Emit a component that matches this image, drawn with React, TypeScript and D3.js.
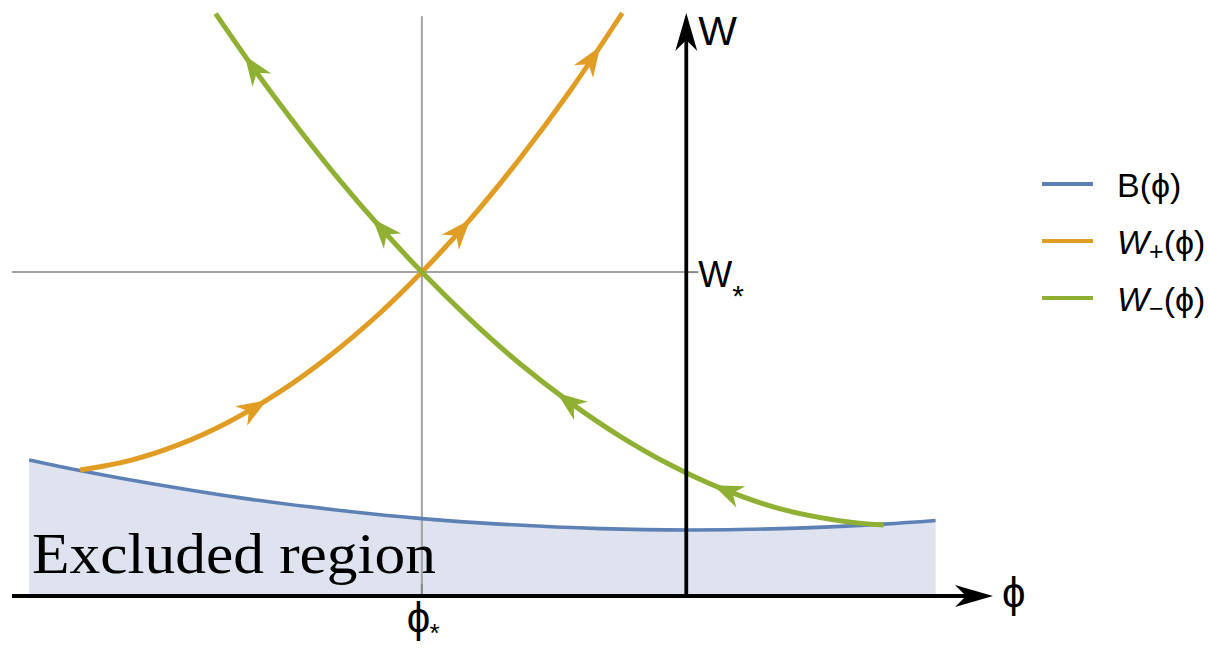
import React, { useRef, useEffect } from 'react';
import * as d3 from 'd3';

// B(phi) boundary of the excluded region
const bPhi = [-2.485, -2.284, -2.03, -1.652, -1.273, -1.0, -0.705, -0.326, 0.015, 0.356, 0.746, 0.943];
const bW = [0.42, 0.386, 0.348, 0.299, 0.261, 0.239, 0.222, 0.208, 0.204, 0.208, 0.222, 0.233];

// W+(phi)
const wPlusPhi = [-2.292, -2.106, -1.917, -1.727, -1.538, -1.348, -1.159, -1.0, -0.818, -0.629, -0.439, -0.242];
const wPlusW = [0.389, 0.418, 0.468, 0.539, 0.63, 0.742, 0.873, 1.0, 1.162, 1.351, 1.56, 1.8];

// W-(phi)
const wMinusPhi = [-1.78, -1.614, -1.462, -1.311, -1.159, -1.0, -0.818, -0.629, -0.439, -0.25, -0.061, 0.129, 0.356, 0.583, 0.746];
const wMinusW = [1.798, 1.604, 1.439, 1.284, 1.14, 1.0, 0.854, 0.717, 0.597, 0.493, 0.405, 0.333, 0.269, 0.232, 0.219];

// arrow tips (phi positions)
const wPlusArrows = [-1.587, -0.818, -0.326];
const wMinusArrows = [-1.67, -1.186, -0.489, 0.102];

const phiStar = -1;
const wStar = 1;
const phiExtent = [-2.55, 1.16];
const wExtent = [0, 1.8];

const colors = { b: '#5e81b5', plus: '#e19c24', minus: '#8fb032', fill: '#dee3ef' };
const sans = 'Liberation Sans, Arial, Helvetica, sans-serif';
const PHI = '\u03D5';

const App = () => {
  const ref = useRef<SVGSVGElement>(null);

  useEffect(() => {
    const svg = d3.select(ref.current);
    svg.selectAll('*').remove();

    const x = d3.scaleLinear().domain(phiExtent).range([12, 993]);
    const y = d3.scaleLinear().domain(wExtent).range([596, 13]);

    const bData = bPhi.map((p, i) => [p, bW[i]]);
    const plusData = wPlusPhi.map((p, i) => [p, wPlusW[i]]);
    const minusData = wMinusPhi.map((p, i) => [p, wMinusW[i]]);

    const line = d3.line<number[]>()
      .x(d => x(d[0]))
      .y(d => y(d[1]))
      .curve(d3.curveCatmullRom.alpha(0.5));

    // shaded excluded region
    const area = d3.area<number[]>()
      .x(d => x(d[0]))
      .y0(y(0))
      .y1(d => y(d[1]))
      .curve(d3.curveCatmullRom.alpha(0.5));
    svg.append('path').attr('d', area(bData)).attr('fill', colors.fill);

    // guide lines through the fixed point
    svg.append('line')
      .attr('x1', x(phiStar)).attr('x2', x(phiStar))
      .attr('y1', y(1.79)).attr('y2', y(0))
      .attr('stroke', '#a3a3a3').attr('stroke-width', 2);
    svg.append('line')
      .attr('x1', x(phiExtent[0])).attr('x2', x(0))
      .attr('y1', y(wStar)).attr('y2', y(wStar))
      .attr('stroke', '#a3a3a3').attr('stroke-width', 2);
    // ticks
    svg.append('line')
      .attr('x1', x(phiStar)).attr('x2', x(phiStar))
      .attr('y1', y(0) - 12).attr('y2', y(0))
      .attr('stroke', '#888').attr('stroke-width', 2);
    svg.append('line')
      .attr('x1', x(0)).attr('x2', x(0) + 12)
      .attr('y1', y(wStar)).attr('y2', y(wStar))
      .attr('stroke', '#888').attr('stroke-width', 2);

    svg.append('text')
      .attr('x', 32).attr('y', y(0) - 23)
      .attr('font-family', 'Liberation Serif, Times New Roman, serif')
      .attr('font-size', 58)
      .attr('textLength', 404)
      .attr('lengthAdjust', 'spacingAndGlyphs')
      .attr('fill', '#000')
      .text('Excluded region');

    svg.append('path').attr('d', line(bData))
      .attr('fill', 'none').attr('stroke', colors.b).attr('stroke-width', 3.6);

    const arrowHead = (tx: number, ty: number, ux: number, uy: number, L: number, W: number, N: number) => {
      const nx = -uy, ny = ux;
      return [
        [tx, ty],
        [tx - L * ux + W * nx, ty - L * uy + W * ny],
        [tx - N * ux, ty - N * uy],
        [tx - L * ux - W * nx, ty - L * uy - W * ny],
      ].map(p => p.join(',')).join(' ');
    };

    const drawCurve = (data: number[][], color: string, arrows: number[], dir: number) => {
      const path = svg.append('path').attr('d', line(data))
        .attr('fill', 'none').attr('stroke', color).attr('stroke-width', 5);
      const node = path.node() as SVGPathElement;
      const total = node.getTotalLength();
      arrows.forEach(a => {
        const px = x(a);
        let lo = 0, hi = total;
        for (let i = 0; i < 40; i++) {
          const mid = (lo + hi) / 2;
          if (node.getPointAtLength(mid).x < px) lo = mid; else hi = mid;
        }
        const s = (lo + hi) / 2;
        const p = node.getPointAtLength(s);
        const p0 = node.getPointAtLength(Math.max(0, s - 2));
        const p1 = node.getPointAtLength(Math.min(total, s + 2));
        const len = Math.hypot(p1.x - p0.x, p1.y - p0.y);
        const ux = (p1.x - p0.x) / len * dir, uy = (p1.y - p0.y) / len * dir;
        svg.append('polygon')
          .attr('points', arrowHead(p.x, p.y, ux, uy, 30, 11.5, 21))
          .attr('fill', color);
      });
    };

    drawCurve(plusData, colors.plus, wPlusArrows, 1);
    drawCurve(minusData, colors.minus, wMinusArrows, -1);

    // axes
    svg.append('line')
      .attr('x1', x(phiExtent[0])).attr('x2', x(phiExtent[1]) - 20)
      .attr('y1', y(0)).attr('y2', y(0))
      .attr('stroke', '#000').attr('stroke-width', 3.8);
    svg.append('polygon')
      .attr('points', arrowHead(x(phiExtent[1]), y(0), 1, 0, 38, 11, 27)).attr('fill', '#000');
    svg.append('line')
      .attr('x1', x(0)).attr('x2', x(0))
      .attr('y1', y(0)).attr('y2', y(wExtent[1]) + 20)
      .attr('stroke', '#000').attr('stroke-width', 3.8);
    svg.append('polygon')
      .attr('points', arrowHead(x(0), y(wExtent[1]), 0, -1, 38, 11, 27)).attr('fill', '#000');

    // axis labels
    svg.append('text').attr('x', x(0) + 12).attr('y', y(wExtent[1]) + 32)
      .attr('font-family', sans).attr('font-size', 41).text('W');
    svg.append('text').attr('x', x(phiExtent[1]) + 9).attr('y', y(0) + 11)
      .attr('font-family', sans).attr('font-size', 42).text(PHI);

    const wStarLabel = svg.append('text').attr('x', x(0) + 12).attr('y', y(wStar) + 15)
      .attr('font-family', sans).attr('font-size', 36);
    wStarLabel.append('tspan').text('W');
    wStarLabel.append('tspan').attr('dy', 19).attr('font-size', 30).text('*');

    const phiStarLabel = svg.append('text').attr('x', x(phiStar) - 15).attr('y', y(0) + 36)
      .attr('font-family', sans).attr('font-size', 42);
    phiStarLabel.append('tspan').text(PHI);
    phiStarLabel.append('tspan').attr('dx', -1).attr('dy', 10).attr('font-size', 26).text('*');

    // legend
    const legend = svg.append('g').attr('transform', 'translate(1042,184)');
    const legendRows = [
      { color: colors.b, label: 'B', sub: '' },
      { color: colors.plus, label: 'W', sub: '+' },
      { color: colors.minus, label: 'W', sub: '\u2212' },
    ];
    legendRows.forEach((r, i) => {
      const g = legend.append('g').attr('transform', `translate(0,${i * 57})`);
      g.append('line').attr('x1', 0).attr('x2', 51).attr('y1', 0).attr('y2', 0)
        .attr('stroke', r.color).attr('stroke-width', 4);
      const t = g.append('text').attr('x', 75).attr('y', 13)
        .attr('font-family', sans).attr('font-size', 34);
      t.append('tspan').attr('font-style', r.sub ? 'italic' : 'normal').text(r.label);
      if (r.sub) {
        t.append('tspan').attr('dy', 6).attr('font-size', 25).text(r.sub);
        t.append('tspan').attr('dy', -6).text(`(${PHI})`);
      } else {
        t.append('tspan').text(`(${PHI})`);
      }
    });
  }, []);

  return (
    <svg ref={ref} width={1209} height={649}
      style={{ position: 'absolute', left: 0, top: 0, background: '#fff' }} />
  );
};

export default App;
